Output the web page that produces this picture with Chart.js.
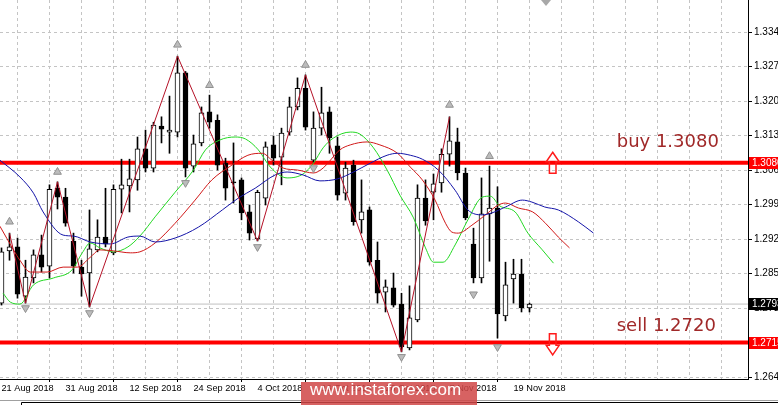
<!DOCTYPE html>
<html>
<head>
<meta charset="utf-8">
<script src="https://cdn.jsdelivr.net/npm/chart.js@4.4.0/dist/chart.umd.min.js"></script>
<style>
  html, body { margin: 0; padding: 0; background: #fff; }
</style>
</head>
<body>
<canvas id="chart" width="778" height="405"></canvas>
<script>
// daily candles, one per trading day from 21 Aug 2018
const opens  = [1.2795,1.2901,1.2909,1.2809,1.2846,1.2893,1.2870,1.3028,1.3010,1.2921,1.2868,1.2856,1.2903,1.2929,1.2897,1.3026,1.3033,1.3045,1.3108,1.3069,1.3154,1.3142,1.3142,1.3262,1.3073,1.3120,1.3183,1.3166,1.3079,1.3041,1.3045,1.2980,1.2925,1.3008,1.3116,1.3091,1.3142,1.3193,1.3231,1.3085,1.3150,1.3183,1.3114,1.3018,1.3075,1.2964,1.2984,1.2882,1.2817,1.2826,1.2793,1.2704,1.2761,1.3008,1.3020,1.3039,1.3097,1.3122,1.3059,1.2915,1.2846,1.2976,1.2988,1.2769,1.2844,1.2854,1.2785];
const highs  = [1.2907,1.2937,1.2927,1.2882,1.2903,1.2933,1.3035,1.3041,1.3028,1.2937,1.2882,1.2984,1.2964,1.3028,1.3035,1.3087,1.3087,1.3132,1.3146,1.3162,1.3173,1.3215,1.3296,1.3265,1.3136,1.3193,1.3217,1.3177,1.3089,1.3120,1.3049,1.2994,1.3024,1.3122,1.3134,1.3150,1.3213,1.3252,1.3258,1.3183,1.3233,1.3193,1.3132,1.3081,1.3085,1.3045,1.2990,1.2919,1.2842,1.2856,1.2815,1.2830,1.3035,1.3045,1.3057,1.3108,1.3173,1.3150,1.3069,1.2947,1.3049,1.3073,1.3031,1.2878,1.2884,1.2884,1.2795];
const lows   = [1.2791,1.2882,1.2805,1.2795,1.2836,1.2858,1.2846,1.2986,1.2951,1.2856,1.2809,1.2787,1.2899,1.2909,1.2893,1.2978,1.2980,1.3024,1.3061,1.3061,1.3120,1.3099,1.3132,1.3051,1.3061,1.3114,1.3150,1.3065,1.3004,1.2998,1.2964,1.2923,1.2921,1.2994,1.3075,1.3035,1.3136,1.3187,1.3146,1.3081,1.3136,1.3099,1.3004,1.3004,1.2953,1.2937,1.2872,1.2795,1.2777,1.2787,1.2696,1.2700,1.2757,1.2953,1.2964,1.3020,1.3073,1.3045,1.2964,1.2836,1.2836,1.2880,1.2724,1.2759,1.2795,1.2777,1.2777];
const closes = [1.2899,1.2909,1.2813,1.2848,1.2893,1.2868,1.3026,1.3010,1.2957,1.2870,1.2854,1.2905,1.2929,1.2915,1.3026,1.3035,1.3047,1.3108,1.3069,1.3156,1.3148,1.3146,1.3262,1.3069,1.3118,1.3181,1.3162,1.3075,1.3028,1.3039,1.2978,1.2937,1.3020,1.3112,1.3089,1.3140,1.3193,1.3231,1.3152,1.3150,1.3181,1.3130,1.3014,1.3069,1.2960,1.2980,1.2878,1.2815,1.2828,1.2791,1.2706,1.2765,1.3008,1.2962,1.3037,1.3097,1.3124,1.3059,1.2968,1.2846,1.2976,1.2988,1.2773,1.2832,1.2854,1.2785,1.2793];

// x axis: bar index of each date label
const dateTicks  = [0, 8, 16, 24, 32, 40, 48, 56, 64];
const dateLabels = ['21 Aug 2018','31 Aug 2018','12 Sep 2018','24 Sep 2018','4 Oct 2018','16 Oct 2018','26 Oct 2018','7 Nov 2018','19 Nov 2018'];
const priceTicks = [1.2645,1.2715,1.2785,1.2855,1.2925,1.2995,1.3065,1.3135,1.3205,1.3275,1.3345];

// Alligator lines (shifted forward)
const jawX  = [-0.2,2.3,4.0,5.2,7.7,9.0,11.1,13.6,15.8,17.3,19.2,21.7,24.6,27.6,29.6,31.7,34.2,35.7,37.7,39.8,42.0,44.0,46.1,48.2,49.5,51.1,52.6,54.6,56.7,58.3,60.1,61.3,63.0,65.1,66.3,67.9,69.6,72.1,74.0];
const jawY  = [1.3085,1.3051,1.3018,1.2980,1.2933,1.2931,1.2919,1.2915,1.2929,1.2931,1.2919,1.2927,1.2949,1.2984,1.3008,1.3028,1.3055,1.3061,1.3055,1.3043,1.3047,1.3061,1.3079,1.3095,1.3099,1.3095,1.3087,1.3065,1.3024,1.2984,1.2974,1.2978,1.2990,1.3004,1.3000,1.2990,1.2984,1.2960,1.2937];
const teethX = [-0.2,1.5,2.3,3.6,5.7,7.7,9.5,11.1,12.3,14.0,16.1,17.3,19.2,21.7,24.2,26.3,28.8,30.8,32.6,33.8,35.2,37.0,39.0,40.2,42.3,43.6,45.7,47.3,49.5,51.1,52.6,54.2,55.5,56.3,57.1,58.8,60.5,62.1,63.0,64.6,66.4,68.0,69.6,71.0];
const teethY = [1.2951,1.2903,1.2882,1.2858,1.2858,1.2868,1.2868,1.2888,1.2903,1.2901,1.2897,1.2899,1.2917,1.2957,1.3004,1.3045,1.3075,1.3095,1.3099,1.3085,1.3069,1.3065,1.3059,1.3069,1.3106,1.3116,1.3122,1.3116,1.3099,1.3071,1.3045,1.3004,1.2957,1.2939,1.2937,1.2953,1.2974,1.2994,1.2998,1.2988,1.2980,1.2957,1.2929,1.2907];
const lipsX = [0.2,1.1,2.3,4.0,6.5,8.8,10.1,11.1,12.3,14.0,15.8,17.3,19.2,21.7,24.0,25.5,27.3,29.2,30.5,32.1,33.6,35.7,37.7,39.0,40.2,41.5,43.6,44.8,46.5,48.2,49.8,51.5,53.0,54.0,55.2,56.7,58.3,60.1,61.1,62.3,64.2,65.8,67.6,69.0];
const lipsY = [1.2815,1.2797,1.2793,1.2832,1.2846,1.2862,1.2897,1.2917,1.2907,1.2899,1.2909,1.2931,1.2970,1.3020,1.3065,1.3106,1.3126,1.3132,1.3128,1.3106,1.3071,1.3049,1.3057,1.3079,1.3110,1.3130,1.3142,1.3138,1.3110,1.3065,1.3014,1.2968,1.2907,1.2878,1.2878,1.2913,1.2964,1.3010,1.3012,1.2992,1.2980,1.2937,1.2903,1.2876];

// zigzag turning points and fractal marks
const zzX = [1, 3, 7, 11, 22, 32, 38, 50, 56];
const zzY = [1.2937,1.2795,1.3041,1.2787,1.3296,1.2921,1.3258,1.2696,1.3173];
const upFracX = [1, 7, 22, 26, 38, 56, 61];
const upFracY = [1.2960,1.3061,1.3319,1.3237,1.3278,1.3197,1.3093];
const dnFracX = [3, 11, 23, 32, 39, 50, 59, 62];
const dnFracY = [1.2785,1.2775,1.3039,1.2909,1.3069,1.2686,1.2813,1.2706];

// trade levels and notes
const levels = [1.3080, 1.2715];
const noteText = ['buy 1.3080', 'sell 1.2720'];
const noteX = [76.9, 76.9];
const noteY = [1.3112, 1.2738];
const arrowX = [68.9, 68.9];
const arrowY = [1.3101, 1.2690];
const arrowDir = ['up', 'down'];

const xMin = -0.1875, xMax = 93.3125;
const yMin = 1.2641, yMax = 1.3410;

const pts = (xs, ys) => xs.map((v, i) => ({ x: v, y: ys[i] }));
const lastClose = closes[closes.length - 1];

const candleBodies = opens.map((o, i) => ({ x: i, y: [o, closes[i]] }));
const candleWicks = lows.map((l, i) => ({ x: i, y: [l, highs[i]] }));
const bodyColors = opens.map((o, i) => closes[i] >= o ? '#ffffff' : '#000000');

function drawArrow(ctx, cx, tip, dir) {
  const s = dir === 'up' ? 1 : -1;
  ctx.beginPath();
  ctx.moveTo(cx, tip);
  ctx.lineTo(cx + 6.5, tip + 9.5 * s);
  ctx.lineTo(cx + 3.3, tip + 9.5 * s);
  ctx.lineTo(cx + 3.3, tip + 21 * s);
  ctx.lineTo(cx - 3.3, tip + 21 * s);
  ctx.lineTo(cx - 3.3, tip + 9.5 * s);
  ctx.lineTo(cx - 6.5, tip + 9.5 * s);
  ctx.closePath();
  ctx.strokeStyle = '#ff1a1a';
  ctx.lineWidth = 1.5;
  ctx.stroke();
}

const decor = {
  id: 'decor',
  afterDraw(chart) {
    const { ctx } = chart;
    const xs = chart.scales.x, ys = chart.scales.y;
    ctx.save();

    // notes
    ctx.font = '18px "DejaVu Sans"';
    ctx.fillStyle = '#a02828';
    ctx.textAlign = 'left';
    ctx.textBaseline = 'alphabetic';
    noteText.forEach((t, i) => ctx.fillText(t, xs.getPixelForValue(noteX[i]), ys.getPixelForValue(noteY[i])));

    // big outline arrows
    arrowX.forEach((v, i) => drawArrow(ctx, xs.getPixelForValue(v), ys.getPixelForValue(arrowY[i]), arrowDir[i]));

    // price tags on the right axis
    ctx.font = '10px "Liberation Sans"';
    ctx.textBaseline = 'middle';
    const tag = (p, bg) => {
      const py = Math.round(ys.getPixelForValue(p));
      ctx.fillStyle = bg;
      ctx.fillRect(749, py - 6, 29, 12);
      ctx.fillStyle = '#ffffff';
      ctx.fillText(p.toFixed(4), 752, py + 0.5);
    };
    levels.forEach(p => tag(p, '#ff0000'));
    tag(lastClose, '#000000');

    // chart shift marker
    ctx.fillStyle = '#a8a8a8';
    ctx.beginPath();
    ctx.moveTo(541, 0); ctx.lineTo(551, 0); ctx.lineTo(546, 6); ctx.closePath();
    ctx.fill();

    // bottom tab bar edge
    ctx.strokeStyle = '#a0a0a0';
    ctx.lineWidth = 1;
    ctx.beginPath(); ctx.moveTo(0, 400.5); ctx.lineTo(778, 400.5); ctx.stroke();
    ctx.strokeStyle = '#000';
    ctx.beginPath(); ctx.moveTo(21.5, 405); ctx.lineTo(21.5, 402.5); ctx.lineTo(778, 402.5); ctx.stroke();

    // watermark
    ctx.fillStyle = 'rgba(208, 70, 70, 0.85)';
    ctx.fillRect(301, 382, 176, 23);
    ctx.fillStyle = '#ffffff';
    ctx.font = '17px "Liberation Sans"';
    ctx.textBaseline = 'alphabetic';
    ctx.fillText('www.instaforex.com', 310, 395);
    ctx.restore();
  }
};

const lineStyle = (color, w) => ({ type: 'line', borderColor: color, borderWidth: w, pointRadius: 0, fill: false });

new Chart(document.getElementById('chart').getContext('2d'), {
  type: 'bar',
  data: {
    datasets: [
      Object.assign(lineStyle('#c0c0c0', 1), { data: [{ x: xMin, y: lastClose }, { x: xMax, y: lastClose }], order: 9 }),
      Object.assign(lineStyle('#ff0000', 4), { data: [{ x: xMin, y: levels[0] }, { x: xMax, y: levels[0] }], order: 8 }),
      Object.assign(lineStyle('#ff0000', 4), { data: [{ x: xMin, y: levels[1] }, { x: xMax, y: levels[1] }], order: 8 }),
      { type: 'bar', data: candleWicks, backgroundColor: '#000', barThickness: 1, grouped: false, order: 7 },
      { type: 'bar', data: candleBodies, backgroundColor: bodyColors, borderColor: '#000', borderWidth: 1,
        borderSkipped: false, barThickness: 5, grouped: false, order: 6 },
      Object.assign(lineStyle('#1414a8', 1), { data: pts(jawX, jawY), cubicInterpolationMode: 'monotone', order: 4 }),
      Object.assign(lineStyle('#d01818', 1), { data: pts(teethX, teethY), cubicInterpolationMode: 'monotone', order: 4 }),
      Object.assign(lineStyle('#22d822', 1), { data: pts(lipsX, lipsY), cubicInterpolationMode: 'monotone', order: 4 }),
      Object.assign(lineStyle('#b41026', 1), { data: pts(zzX, zzY), order: 3 }),
      { type: 'line', data: pts(upFracX, upFracY), showLine: false, pointStyle: 'triangle', pointRadius: 4.5,
        pointBackgroundColor: '#bcbcbc', pointBorderColor: '#909090', pointBorderWidth: 1, order: 2 },
      { type: 'line', data: pts(dnFracX, dnFracY), showLine: false, pointStyle: 'triangle', pointRadius: 4.5, pointRotation: 180,
        pointBackgroundColor: '#bcbcbc', pointBorderColor: '#909090', pointBorderWidth: 1, order: 2 }
    ]
  },
  options: {
    responsive: false,
    animation: false,
    devicePixelRatio: 1,
    layout: { padding: 0, autoPadding: false },
    plugins: { legend: { display: false }, tooltip: { enabled: false } },
    scales: {
      x: {
        type: 'linear', min: xMin, max: xMax, offset: false,
        afterBuildTicks: s => { const t = []; for (let v = 0; v <= xMax; v += 4) t.push({ value: v }); s.ticks = t; },
        afterFit: s => { s.height = 26; s.paddingLeft = 0; s.paddingRight = 0; },
        grid: { color: '#c4c4c4', tickLength: 3,
          tickColor: c => (c.tick && dateTicks.includes(c.tick.value)) ? '#000' : 'rgba(0,0,0,0)' },
        border: { color: '#000', dash: [3, 3] },
        ticks: { align: 'start', maxRotation: 0, autoSkip: false, padding: 1, color: '#000',
          font: { family: 'Liberation Sans', size: 9.2 },
          callback: v => { const i = dateTicks.indexOf(v); return i >= 0 ? dateLabels[i] : ''; } }
      },
      y: {
        position: 'right', min: yMin, max: yMax,
        afterBuildTicks: s => { s.ticks = priceTicks.map(v => ({ value: v })); },
        afterFit: s => { s.width = 30; s.paddingTop = 0; s.paddingBottom = 0; },
        grid: { color: '#c4c4c4', tickLength: 4, tickColor: '#000' },
        border: { color: '#000', dash: [3, 3] },
        ticks: { padding: 2, color: '#000', font: { family: 'Liberation Sans', size: 10 },
          callback: v => v.toFixed(4) }
      }
    }
  },
  plugins: [decor]
});
</script>
</body>
</html>
